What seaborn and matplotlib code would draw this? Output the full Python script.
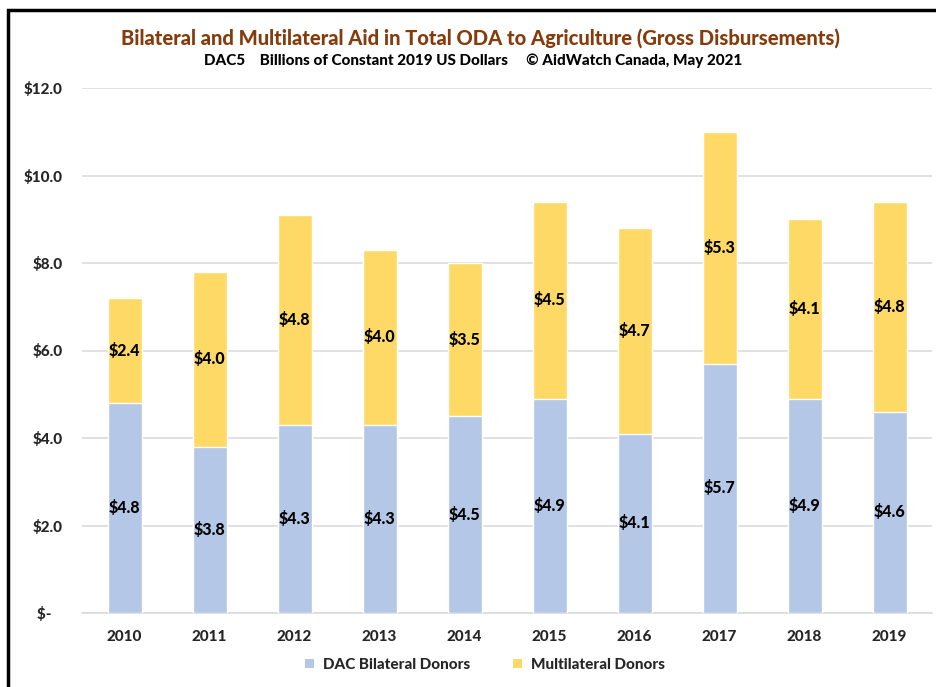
import matplotlib
matplotlib.use("Agg")
import matplotlib.pyplot as plt
from matplotlib.patches import Rectangle
import seaborn as sns
import pandas as pd

years = ["2010", "2011", "2012", "2013", "2014", "2015", "2016", "2017", "2018", "2019"]
bilateral = [4.8, 3.8, 4.3, 4.3, 4.5, 4.9, 4.1, 5.7, 4.9, 4.6]
multilateral = [2.4, 4.0, 4.8, 4.0, 3.5, 4.5, 4.7, 5.3, 4.1, 4.8]
series_names = ["DAC Bilateral Donors", "Multilateral Donors"]
y_ticks = [0, 2, 4, 6, 8, 10, 12]
y_tick_labels = ["$-   ", "$2.0", "$4.0", "$6.0", "$8.0", "$10.0", "$12.0"]

BLUE = "#B4C7E7"
YELLOW = "#FFD966"
TITLE_COLOR = "#843C0C"

sns.set_theme(style="white")
plt.rcParams["font.family"] = ["Lato", "DejaVu Sans"]

W = 900

df = pd.DataFrame({"year": years, "bilateral": bilateral, "multilateral": multilateral})
df["total"] = df["bilateral"] + df["multilateral"]

fig = plt.figure(figsize=(9.36, 6.87), dpi=100)
ax = fig.add_axes([82 / 936, 1 - 613 / 687, 850 / 936, 525 / 687])

# stacked bars: full height in yellow, bilateral portion overlaid in blue
sns.barplot(data=df, x="year", y="total", color=YELLOW, saturation=1, width=0.4, ax=ax, zorder=2)
sns.barplot(data=df, x="year", y="bilateral", color=BLUE, saturation=1, width=0.4, ax=ax, zorder=3)

for i, (b, m) in enumerate(zip(bilateral, multilateral)):
    ax.text(i, b / 2, f"${b:.1f}", ha="center", va="center", fontsize=11.5,
            fontweight=W, color="black", zorder=4)
    ax.text(i, b + m / 2, f"${m:.1f}", ha="center", va="center", fontsize=11.5,
            fontweight=W, color="black", zorder=4)

ax.set_ylim(0, 12)
ax.set_xlim(-0.5, 9.5)
ax.set_yticks(y_ticks)
ax.set_yticklabels(y_tick_labels)
ax.yaxis.grid(True, color="#D9D9D9", linewidth=1.1, zorder=0)
ax.set_axisbelow(True)
for s in ["top", "right", "left"]:
    ax.spines[s].set_visible(False)
ax.spines["bottom"].set_color("#D9D9D9")
ax.spines["bottom"].set_linewidth(1.1)
ax.tick_params(axis="both", length=0, labelsize=11)
ax.tick_params(axis="y", pad=14)
ax.tick_params(axis="x", pad=12)
for lbl in ax.get_xticklabels() + ax.get_yticklabels():
    lbl.set_fontweight(W)
ax.set_xlabel("")
ax.set_ylabel("")

fig.text(0.513, 1 - 38 / 687, "Bilateral and Multilateral Aid in Total ODA to Agriculture (Gross Disbursements)",
         ha="center", va="center", fontsize=14.5, fontweight=W, color=TITLE_COLOR)
fig.text(0.505, 1 - 61 / 687, "DAC5    Billions of Constant 2019 US Dollars     \u00a9 AidWatch Canada, May 2021",
         ha="center", va="center", fontsize=11, fontweight=W, color="black")

handles = [Rectangle((0, 0), 1, 1, facecolor=BLUE, edgecolor="none"),
           Rectangle((0, 0), 1, 1, facecolor=YELLOW, edgecolor="none")]
leg = fig.legend(handles, series_names, loc="center", bbox_to_anchor=(0.518, 1 - 665 / 687),
                 ncol=2, frameon=False, fontsize=11, handlelength=0.6, handleheight=0.6,
                 columnspacing=2.8, handletextpad=0.6)
for t in leg.get_texts():
    t.set_fontweight(W)

# outer frame
frame = Rectangle((8 / 936, -0.05), 1.2, 1 - 10 / 687 + 0.05, transform=fig.transFigure,
                  fill=False, edgecolor="black", linewidth=2.5, zorder=10)
fig.add_artist(frame)

fig.savefig("out.png", dpi=100)
